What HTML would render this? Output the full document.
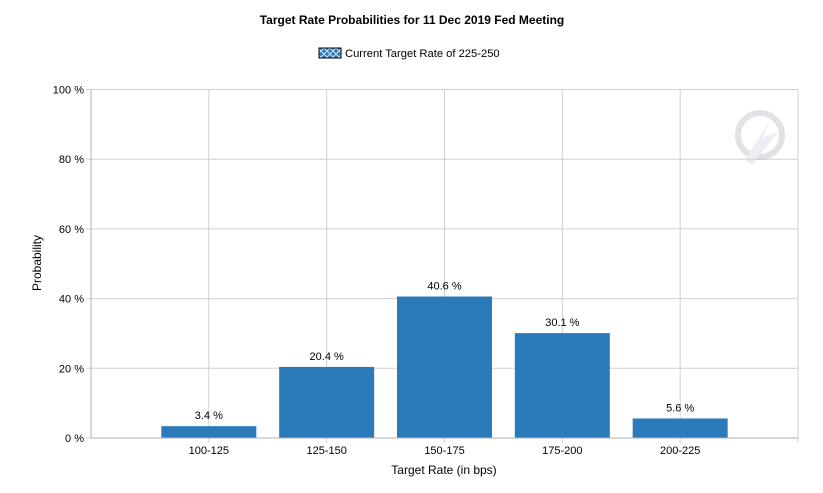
<!DOCTYPE html>
<html><head><meta charset="utf-8"><style>
body{margin:0;background:#fff;font-family:"Liberation Sans",Arial,sans-serif;}
svg text{font-family:"Liberation Sans",Arial,sans-serif;}
</style></head><body>
<svg width="823" height="488" xmlns="http://www.w3.org/2000/svg">
<defs><pattern id="hatch" width="6" height="6" patternUnits="userSpaceOnUse"><rect width="6" height="6" fill="#2b7bba"/><path d="M0 0L6 6M6 0L0 6" stroke="#cfe3f5" stroke-width="1"/></pattern></defs>
<text x="412" y="24" text-anchor="middle" font-size="12" font-weight="bold" fill="#000">Target Rate Probabilities for 11 Dec 2019 Fed Meeting</text>
<g>
<rect x="319" y="48" width="22" height="10" fill="url(#hatch)" stroke="#000" stroke-width="1"/>
<text x="345" y="57" font-size="11.2" fill="#000">Current Target Rate of 225-250</text>
</g>
<g id="grid"></g>
<g id="bars"></g>
<g id="axes"></g>
<g opacity="0.35">
<circle cx="760" cy="135" r="22" fill="none" stroke="#aab" stroke-width="6"/>
<path d="M745 160 L770 120 L762 138 L778 132 L752 165 Z" fill="#ccd"/>
</g>
<text transform="translate(41,263) rotate(-90)" text-anchor="middle" font-size="12" fill="#000">Probability</text>
<text x="444" y="474" text-anchor="middle" font-size="12" fill="#000">Target Rate (in bps)</text>
</svg>
<script>
const categories=["100-125","125-150","150-175","175-200","200-225"];
const values=[3.4,20.4,40.6,30.1,5.6];
const yTicks=[0,20,40,60,80,100];
const NS="http://www.w3.org/2000/svg";
const L=91,R=798,T=89.5,B=438,slots=6,slotW=(R-L)/slots,barW=95;
const x=i=>L+slotW*(i+1);
const y=v=>B-(B-T)*v/100;
function mk(t,a,p,txt){const e=document.createElementNS(NS,t);for(const k in a)e.setAttribute(k,a[k]);if(txt!==undefined)e.textContent=txt;p.appendChild(e);return e;}
const grid=document.getElementById('grid'),bars=document.getElementById('bars'),axes=document.getElementById('axes');
yTicks.forEach(t=>{
 const g=mk('line',{x1:L-5,x2:R,y1:y(t),y2:y(t),stroke:'#d0d0d0','stroke-width':1},grid);
 
 
 const lb=mk('text',{x:L-7,y:y(t)+4,'text-anchor':'end','font-size':11,fill:'#000'},axes,t+' %');
 
 
});
for(let i=0;i<slots;i++){
 const g=mk('line',{x1:x(i),x2:x(i),y1:T,y2:B+5,stroke:'#d0d0d0','stroke-width':1},grid);
 
 
}
mk('line',{x1:L,x2:L,y1:T,y2:B,stroke:'#b0b0b0','stroke-width':1},axes);
mk('line',{x1:L,x2:R,y1:B,y2:B,stroke:'#b0b0b0','stroke-width':1},axes);
categories.forEach((c,i)=>{
 const r=mk('rect',{x:x(i)-barW/2,y:y(values[i]),width:barW,height:B-y(values[i]),fill:'#2b7bba'},bars);
 
 
 const v=mk('text',{x:x(i),y:y(values[i])-7,'text-anchor':'middle','font-size':11,fill:'#000'},bars,values[i].toFixed(1)+' %');
 
 
 const lb=mk('text',{x:x(i),y:B+16,'text-anchor':'middle','font-size':11,fill:'#000'},axes,c);
 
 
});
</script>
</body></html>
